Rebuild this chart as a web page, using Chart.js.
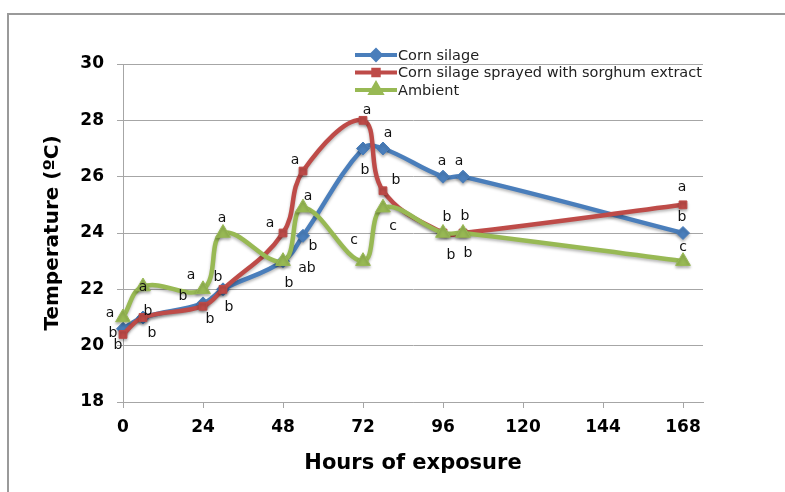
<!DOCTYPE html>
<html>
<head>
<meta charset="utf-8">
<script src="https://cdn.jsdelivr.net/npm/chart.js"></script>
<style>
  body { margin: 0; background: #fff; }
</style>
</head>
<body>
<canvas id="temps" width="785" height="492"></canvas>

<script>
    // sampling times (h) and temperatures
    const hours = [0, 6, 24, 30, 48, 54, 72, 78, 96, 102, 168];
    const cornSilage = [20.6, 21.0, 21.5, 22.0, 23.0, 23.9, 27.0, 27.0, 26.0, 26.0, 24.0];
    const sprayed = [20.4, 21.0, 21.4, 22.0, 24.0, 26.2, 28.0, 25.5, 24.0, 24.0, 25.0];
    const ambient = [21.0, 22.1, 22.0, 24.0, 23.0, 24.9, 23.0, 24.9, 24.0, 24.0, 23.0];

    // significance letters, one per point
    const cornLetters = ['b', 'b', 'b', 'b', 'b', 'b', 'b', 'a', 'a', 'a', 'b'];
    const sprayedLetters = ['b', 'b', 'b', 'b', 'a', 'a', 'a', 'b', 'b', 'b', 'a'];
    const ambientLetters = ['a', 'a', 'a', 'a', 'ab', 'a', 'c', 'c', 'b', 'b', 'c'];

    const xTicks = [0, 24, 48, 72, 96, 120, 144, 168];
    const yTicks = [18, 20, 22, 24, 26, 28, 30];

    // where each letter sits next to its point (px)
    const letterNudge = [
        [[-10, 5], [5, -6], [-20, -7], [-5, -12], [6, 22], [10, 11], [2, 22], [5, -15], [-1, -15], [-4, -15], [-1, -16]],
        [[-5, 11], [9, 16], [7, 13], [6, 18], [-13, -10], [-8, -11], [4, -10], [13, -10], [4, -16], [2, -17], [-1, -17]],
        [[-13, -4], [0, 1], [-12, -14], [-1, -15], [24, 7], [5, -11], [-9, -21], [10, 19], [8, 22], [5, 20], [0, -14]]
    ];

    Chart.defaults.font.family = "'DejaVu Sans', sans-serif";

    function series(label, values, letters, color, shape, radius, order) {
        return {
            label: label,
            data: hours.map(function (h, i) { return { x: h, y: values[i] }; }),
            letters: letters,
            borderColor: color,
            backgroundColor: color,
            borderWidth: 4.5,
            pointStyle: shape,
            pointRadius: radius,
            pointHoverRadius: radius,
            pointBorderWidth: 1,
            tension: 0.4,
            clip: false,
            order: order
        };
    }

    const frame = {
        id: 'frame',
        beforeDraw(chart) {
            const ctx = chart.ctx;
            ctx.save();
            ctx.strokeStyle = '#9a9a9a';
            ctx.lineWidth = 2;
            ctx.beginPath();
            ctx.moveTo(8, 492);
            ctx.lineTo(8, 14);
            ctx.lineTo(785, 14);
            ctx.stroke();
            ctx.restore();
        }
    };

    const shadow = {
        id: 'shadow',
        beforeDatasetDraw(chart) {
            const ctx = chart.ctx;
            ctx.save();
            ctx.shadowColor = 'rgba(0,0,0,0.28)';
            ctx.shadowBlur = 3;
            ctx.shadowOffsetY = 2;
        },
        afterDatasetDraw(chart) {
            chart.ctx.restore();
        }
    };

    const letters = {
        id: 'letters',
        afterDatasetsDraw(chart) {
            const ctx = chart.ctx;
            ctx.save();
            ctx.font = '14px "DejaVu Sans"';
            ctx.fillStyle = '#111';
            ctx.textAlign = 'center';
            ctx.textBaseline = 'middle';
            chart.data.datasets.forEach(function (ds, d) {
                chart.getDatasetMeta(d).data.forEach(function (pt, i) {
                    const n = letterNudge[d][i];
                    ctx.fillText(ds.letters[i], pt.x + n[0], pt.y + n[1]);
                });
            });
            ctx.restore();
        }
    };

    const legendBox = {
        id: 'legendBox',
        afterDraw(chart) {
            const ctx = chart.ctx;
            ctx.save();
            chart.data.datasets.forEach(function (ds, d) {
                const y = 55 + d * 17.5;
                ctx.strokeStyle = ds.borderColor;
                ctx.lineWidth = 4;
                ctx.beginPath();
                ctx.moveTo(355, y);
                ctx.lineTo(397, y);
                ctx.stroke();
                ctx.fillStyle = ds.backgroundColor;
                Chart.helpers.drawPoint(ctx, {
                    pointStyle: ds.pointStyle, radius: ds.pointRadius * 0.7, borderWidth: 1
                }, 376, y);
                ctx.fillStyle = '#222';
                ctx.font = '14.5px "DejaVu Sans"';
                ctx.textBaseline = 'middle';
                ctx.fillText(ds.label, 398, y + 1);
            });
            ctx.restore();
        }
    };

    const axisGrey = '#a6a6a6';

    new Chart(document.getElementById('temps'), {
        type: 'line',
        data: {
            datasets: [
                series('Corn silage', cornSilage, cornLetters, '#4a7ebb', 'rectRot', 6.5, 2),
                series('Corn silage sprayed with sorghum extract', sprayed, sprayedLetters, '#be4b48', 'rect', 5.5, 1),
                series('Ambient', ambient, ambientLetters, '#98b954', 'triangle', 8.5, 0)
            ]
        },
        options: {
            responsive: false,
            animation: false,
            layout: { padding: { top: 64, right: 82, left: 0, bottom: 0 } },
            plugins: {
                legend: { display: false },
                tooltip: { enabled: false }
            },
            scales: {
                x: {
                    type: 'linear',
                    min: 0,
                    max: 174,
                    afterBuildTicks: function (s) { s.ticks = xTicks.map(function (v) { return { value: v }; }); },
                    afterFit: function (s) { s.height = 90; },
                    border: { color: axisGrey, width: 1 },
                    grid: { drawOnChartArea: false, tickLength: 6, color: axisGrey },
                    ticks: {
                        color: '#000', padding: 9, maxRotation: 0, autoSkip: false,
                        font: { weight: 'bold', size: 17 }
                    },
                    title: {
                        display: true, text: 'Hours of exposure', color: '#000',
                        font: { weight: 'bold', size: 21 },
                        padding: { top: 16, bottom: 16 }
                    }
                },
                y: {
                    min: 18,
                    max: 30,
                    afterBuildTicks: function (s) { s.ticks = yTicks.map(function (v) { return { value: v }; }); },
                    afterFit: function (s) { s.width = 123; },
                    border: { color: axisGrey, width: 1 },
                    grid: { color: axisGrey, tickLength: 6 },
                    ticks: {
                        color: '#000', padding: 13,
                        font: { weight: 'bold', size: 17 }
                    },
                    title: {
                        display: true, text: 'Temperature (ºC)', color: '#000',
                        font: { weight: 'bold', size: 20 },
                        padding: { top: 41, bottom: 41 }
                    }
                }
            }
        },
        plugins: [frame, shadow, letters, legendBox]
    });
</script>
</body>
</html>
